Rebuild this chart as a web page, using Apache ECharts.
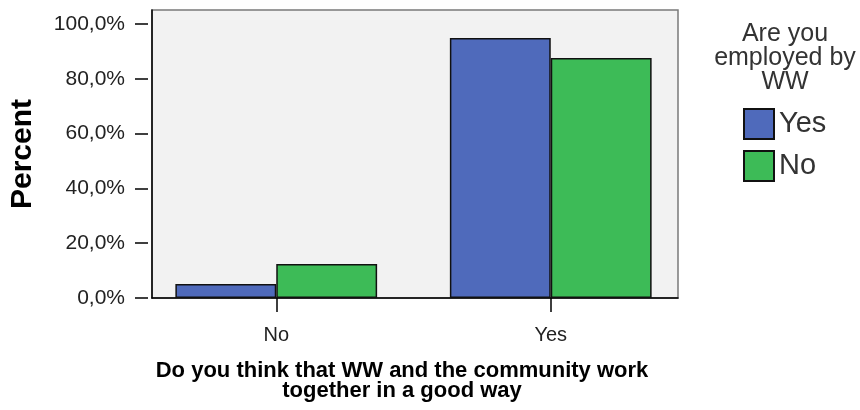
<!DOCTYPE html>
<html><head><meta charset="utf-8">
<script src="https://cdn.jsdelivr.net/npm/echarts@6/dist/echarts.min.js"></script>
<style>html,body{margin:0;padding:0;background:#fff}#c{width:860px;height:410px}</style>
</head><body><div id="c"></div>
<script>
const categories = ['No', 'Yes'];
const seriesNames = ['Yes', 'No'];
const employedYes = [5.1, 94.9];
const employedNo = [12.4, 87.6];
const yTicks = [0, 20, 40, 60, 80, 100];
const xTitle = 'Do you think that WW and the community work\ntogether in a good way';
const yTitle = 'Percent';
const legendTitle = 'Are you\nemployed by\nWW';
const colors = ['#4f6abb', '#3dbb57'];

const FF = '"Liberation Sans", Arial, sans-serif';
const chart = echarts.init(document.getElementById('c'), null, {renderer: 'canvas'});
const barStyle = c => ({color: c, borderColor: '#111', borderWidth: 1.5});
chart.setOption({
  animation: false,
  textStyle: {fontFamily: FF},
  title: [
    {text: legendTitle, left: 785, top: 22, textAlign: 'center', padding: 0,
     textStyle: {fontFamily: FF, fontSize: 25, fontWeight: 'normal', lineHeight: 24, color: '#333'}},
    {text: xTitle, left: 402, top: 361, textAlign: 'center', padding: 0,
     textStyle: {fontFamily: FF, fontSize: 22, fontWeight: 'bold', lineHeight: 20, color: '#000'}}
  ],
  legend: {
    data: seriesNames, orient: 'vertical', left: 743, top: 108, padding: 0,
    itemWidth: 30, itemHeight: 30, itemGap: 10, icon: 'rect',
    textStyle: {fontFamily: FF, fontSize: 29, color: '#333'}
  },
  grid: [
    {left: 148, right: 182, top: 10, bottom: 112, show: true, backgroundColor: '#f2f2f2', borderColor: '#7a7a7a', borderWidth: 1.5, z: 0},
    {left: 148, right: 182, top: 24, bottom: 112},
    {left: 139, right: 172, top: 24, bottom: 112}
  ],
  xAxis: [
    {gridIndex: 0, type: 'value', min: 0, max: 1, axisLine: {show: true, onZero: false, lineStyle: {color: '#000', width: 1.5}},
     axisTick: {show: false}, axisLabel: {show: false}, splitLine: {show: false}},
    {gridIndex: 1, type: 'value', show: false},
    {gridIndex: 2, type: 'category', data: categories, axisLine: {show: false},
     axisTick: {show: true, alignWithLabel: true, length: 14, lineStyle: {color: '#000', width: 1.5}},
     axisLabel: {margin: 27, fontSize: 20, color: '#222', fontFamily: FF}}
  ],
  yAxis: [
    {gridIndex: 0, type: 'value', min: 0, max: 1, axisLine: {show: true, onZero: false, lineStyle: {color: '#000', width: 1.5}},
     axisTick: {show: false}, axisLabel: {show: false}, splitLine: {show: false},
     name: yTitle, nameLocation: 'middle', nameGap: 114,
     nameTextStyle: {fontFamily: FF, fontSize: 30, fontWeight: 'bold', color: '#000'}},
    {gridIndex: 1, type: 'value', min: yTicks[0], max: yTicks[yTicks.length - 1], interval: yTicks[1] - yTicks[0],
     axisLine: {show: false}, axisTick: {show: true, length: 13, lineStyle: {color: '#000', width: 1.5}},
     axisLabel: {margin: 23, fontSize: 21, color: '#222', fontFamily: FF,
       formatter: v => v.toFixed(1).replace('.', ',') + '%'},
     splitLine: {show: false}},
    {gridIndex: 2, type: 'value', min: yTicks[0], max: yTicks[yTicks.length - 1], show: false}
  ],
  series: [
    {name: seriesNames[0], type: 'bar', xAxisIndex: 2, yAxisIndex: 2, data: employedYes,
     barGap: '0%', barCategoryGap: '26.5%', itemStyle: barStyle(colors[0])},
    {name: seriesNames[1], type: 'bar', xAxisIndex: 2, yAxisIndex: 2, data: employedNo,
     barGap: '0%', barCategoryGap: '26.5%', itemStyle: barStyle(colors[1])}
  ]
});
</script></body></html>
